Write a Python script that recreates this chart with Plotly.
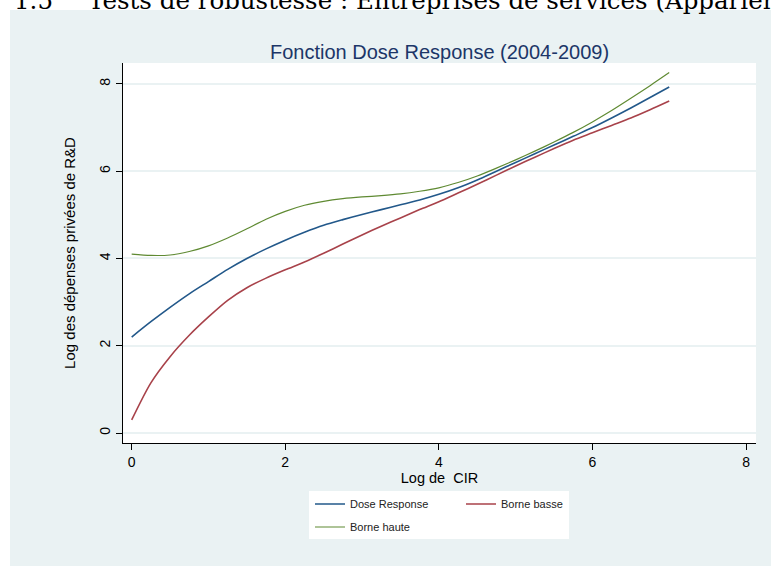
import plotly.graph_objects as go

# ---- data ----
dose_x = [0, 0.25, 0.5, 0.75, 1.0, 1.25, 1.5, 1.75, 2.0, 2.25, 2.5, 2.75, 3.0, 3.25, 3.5, 3.75,
          4.0, 4.25, 4.5, 4.75, 5.0, 5.25, 5.5, 5.75, 6.0, 6.25, 6.5, 6.75, 7.0]
dose_y = [2.20, 2.55, 2.88, 3.19, 3.47, 3.75, 4.00, 4.22, 4.42, 4.60, 4.76, 4.89, 5.01, 5.12, 5.23, 5.34,
          5.47, 5.62, 5.80, 6.00, 6.20, 6.40, 6.60, 6.80, 7.00, 7.22, 7.45, 7.69, 7.93]

basse_x = [0, 0.25, 0.5, 0.75, 1.0, 1.25, 1.5, 1.75, 2.0, 2.25, 2.5, 2.75, 3.0, 3.25, 3.5, 3.75,
           4.0, 4.25, 4.5, 4.75, 5.0, 5.25, 5.5, 5.75, 6.0, 6.25, 6.5, 6.75, 7.0]
basse_y = [0.30, 1.15, 1.75, 2.24, 2.66, 3.04, 3.33, 3.55, 3.74, 3.92, 4.12, 4.33, 4.54, 4.74, 4.93, 5.12,
           5.30, 5.50, 5.70, 5.91, 6.12, 6.32, 6.52, 6.71, 6.88, 7.05, 7.22, 7.41, 7.61]

haute_x = [0, 0.25, 0.5, 0.75, 1.0, 1.25, 1.5, 1.75, 2.0, 2.25, 2.5, 2.75, 3.0, 3.25, 3.5, 3.75,
           4.0, 4.25, 4.5, 4.75, 5.0, 5.25, 5.5, 5.75, 6.0, 6.25, 6.5, 6.75, 7.0]
haute_y = [4.10, 4.07, 4.08, 4.16, 4.29, 4.47, 4.68, 4.90, 5.08, 5.22, 5.31, 5.37, 5.41, 5.44, 5.48, 5.54,
           5.62, 5.74, 5.89, 6.07, 6.26, 6.46, 6.67, 6.89, 7.13, 7.39, 7.67, 7.96, 8.26]

x_ticks = [0, 2, 4, 6, 8]
y_ticks = [0, 2, 4, 6, 8]

series_names = ["Dose Response", "Borne basse", "Borne haute"]

title_text = "Fonction Dose Response (2004-2009)"
x_title = "Log de  CIR"
y_title = "Log des dépenses privées de R&amp;D"
heading_num = "1.5"
heading_text = "Tests de robustesse : Entreprises de services (Appariement)"

# ---- layout geometry ----
W, H = 771, 566
ML, MR, MT, MB = 123, 15, 63, 123
PW = W - ML - MR
PH = H - MT - MB

def px_x(p):
    return (p - ML) / PW

def px_y(p):
    return (H - MB - p) / PH

FONT = "Liberation Sans, Arial, Helvetica, sans-serif"
SERIF = "DejaVu Serif, Liberation Serif, serif"
BG = "#eaf2f3"
C_BLUE = "#22588a"
C_RED = "#a8424a"
C_GREEN = "#5f8a32"

fig = go.Figure()
fig.add_trace(go.Scatter(x=dose_x, y=dose_y, mode="lines", name=series_names[0],
                         line=dict(color=C_BLUE, width=1.6, shape="spline", smoothing=0.8),
                         legend="legend"))
fig.add_trace(go.Scatter(x=basse_x, y=basse_y, mode="lines", name=series_names[1],
                         line=dict(color=C_RED, width=1.6, shape="spline", smoothing=0.8),
                         legend="legend2"))
fig.add_trace(go.Scatter(x=haute_x, y=haute_y, mode="lines", name=series_names[2],
                         line=dict(color=C_GREEN, width=1.2, shape="spline", smoothing=0.8),
                         legend="legend3"))

leg_common = dict(bgcolor="rgba(0,0,0,0)", borderwidth=0, orientation="v",
                  font=dict(family=FONT, size=11, color="#222"),
                  xanchor="left", yanchor="middle", itemwidth=30)

fig.update_layout(
    width=W, height=H,
    margin=dict(l=ML, r=MR, t=MT, b=MB),
    paper_bgcolor="white",
    plot_bgcolor="white",
    font=dict(family=FONT, color="black"),
    title=dict(text=title_text, x=0.5, xref="paper", xanchor="center",
               y=1 - 52 / H, yref="container", yanchor="middle",
               font=dict(family=FONT, size=20, color="#1c3668")),
    xaxis=dict(range=[-0.113, 8.13], tickvals=x_ticks, ticktext=[str(v) for v in x_ticks],
               showgrid=False, zeroline=False, showline=True, linecolor="black", linewidth=1,
               ticks="outside", ticklen=6, tickcolor="black", tickwidth=1,
               tickfont=dict(family=FONT, size=14, color="black"),
               title=dict(text=x_title, standoff=2, font=dict(family=FONT, size=14.5, color="black"))),
    yaxis=dict(range=[-0.229, 8.48], tickvals=y_ticks, ticktext=[str(v) for v in y_ticks],
               showgrid=True, gridcolor=BG, gridwidth=2, zeroline=False,
               showline=True, linecolor="black", linewidth=1,
               ticks="outside", ticklen=6, tickcolor="black", tickwidth=1, tickangle=-90,
               tickfont=dict(family=FONT, size=14, color="black"),
               title=dict(text=y_title, standoff=18, font=dict(family=FONT, size=15, color="black"))),
    legend=dict(x=px_x(310), y=px_y(504), **leg_common),
    legend2=dict(x=px_x(461), y=px_y(504), **leg_common),
    legend3=dict(x=px_x(310), y=px_y(527), **leg_common),
    showlegend=True,
)

# grey panel, white plot area, white legend box
fig.add_shape(type="rect", xref="paper", yref="paper", layer="below",
              x0=px_x(10), x1=px_x(W + 5), y0=px_y(H + 5), y1=px_y(10),
              fillcolor=BG, line=dict(width=0))
fig.add_shape(type="rect", xref="paper", yref="paper", layer="below",
              x0=0, x1=1, y0=0, y1=1, fillcolor="white", line=dict(width=0))
fig.add_shape(type="rect", xref="paper", yref="paper", layer="below",
              x0=px_x(309), x1=px_x(569), y0=px_y(539), y1=px_y(491),
              fillcolor="white", line=dict(width=0))

# cropped document heading at the very top
fig.add_annotation(text=heading_num, xref="paper", yref="paper", x=px_x(12), y=px_y(0),
                   xanchor="left", yanchor="middle", showarrow=False,
                   font=dict(family=SERIF, size=24.5, color="black"))
fig.add_annotation(text=heading_text, xref="paper", yref="paper", x=px_x(86), y=px_y(0),
                   xanchor="left", yanchor="middle", showarrow=False,
                   font=dict(family=SERIF, size=24.5, color="black"))

# remove the default page margin so the figure sits at the window's top-left corner
fig.write_html("out.html", config={"displayModeBar": False},
               post_script="document.body.style.margin='0';")
